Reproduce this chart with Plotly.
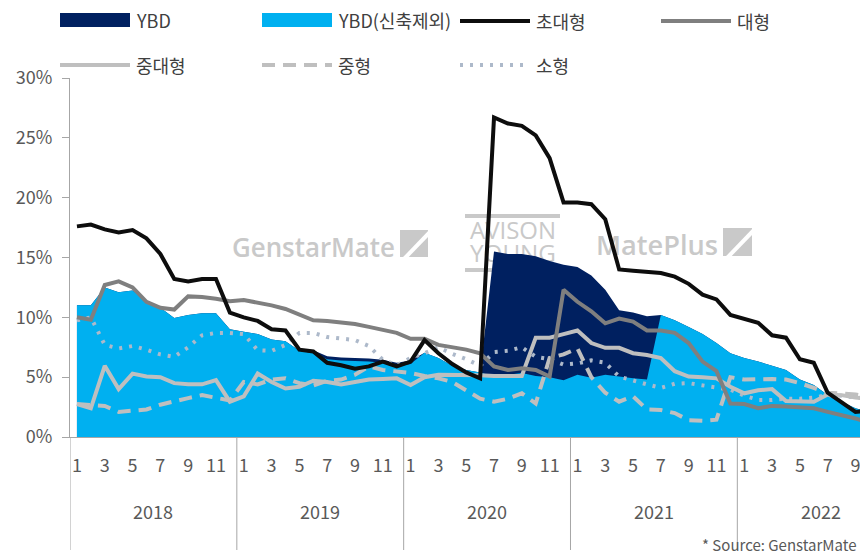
import plotly.graph_objects as go
import urllib.parse

# ---------------- data (monthly, Jan 2018 - Oct 2022) ----------------
years = [2018, 2019, 2020, 2021, 2022]
month_labels = [1, 3, 5, 7, 9, 11]
y_ticks = [0, 5, 10, 15, 20, 25, 30]

ybd = [
    11.0, 11.0, 12.5, 12.1, 12.25, 11.35, 10.8, 9.95, 10.2, 10.35, 10.35, 9.0,
    8.8, 8.6, 8.15, 8.0, 7.2, 7.25, 6.75, 6.65, 6.6, 6.55, 6.45, 6.2,
    6.4, 7.05, 6.6, 5.95, 5.6, 5.4, 15.5, 15.3, 15.3, 15.1, 14.7, 14.4,
    14.2, 13.5, 12.3, 10.6, 10.4, 10.1, 10.2, 9.75, 9.2, 8.6, 7.85, 7.0,
    6.6, 6.3, 5.95, 5.6, 4.8, 4.35, 3.5, 2.95, 2.4, 2.1,
]
ybd_excl_new = [
    11.0, 11.0, 12.5, 12.1, 12.25, 11.35, 10.8, 9.95, 10.2, 10.35, 10.35, 9.0,
    8.8, 8.6, 8.15, 8.0, 7.2, 7.0, 6.5, 6.4, 6.35, 6.3, 6.2, 5.9,
    6.1, 7.05, 6.6, 5.95, 5.6, 5.4, 5.05, 5.2, 5.35, 5.1, 5.0, 4.75,
    5.2, 4.95, 5.2, 5.05, 4.9, 4.8, 10.2, 9.75, 9.2, 8.6, 7.85, 7.0,
    6.6, 6.3, 5.95, 5.6, 4.8, 4.35, 3.5, 2.95, 2.4, 2.1,
]
prime = [  # 초대형
    17.6, 17.75, 17.35, 17.1, 17.3, 16.6, 15.3, 13.2, 13.0, 13.2, 13.2, 10.4,
    10.0, 9.7, 9.0, 8.9, 7.3, 7.15, 6.2, 6.0, 5.7, 5.9, 6.3, 5.9,
    6.3, 8.1, 7.0, 6.1, 5.4, 4.9, 26.7, 26.2, 26.0, 25.2, 23.3, 19.6,
    19.6, 19.45, 18.2, 14.0, 13.9, 13.8, 13.7, 13.4, 12.8, 11.9, 11.5, 10.2,
    9.9, 9.55, 8.5, 8.3, 6.5, 6.2, 3.7, 2.9, 2.1, 2.2,
]
large = [  # 대형
    10.0, 9.8, 12.7, 13.0, 12.5, 11.3, 10.8, 10.65, 11.75, 11.7, 11.55, 11.35,
    11.45, 11.25, 11.0, 10.7, 10.2, 9.75, 9.7, 9.6, 9.45, 9.2, 8.95, 8.7,
    8.2, 8.2, 7.7, 7.5, 7.3, 7.0, 5.9, 5.6, 5.75, 5.6, 5.05, 12.3,
    11.3, 10.5, 9.5, 9.9, 9.65, 8.9, 8.9, 8.7, 7.85, 6.3, 5.5, 2.8,
    2.75, 2.4, 2.6, 2.55, 2.5, 2.4, 2.1, 1.85, 1.55, 1.2,
]
mid_large = [  # 중대형
    2.75, 2.4, 5.95, 4.0, 5.3, 5.05, 5.0, 4.5, 4.4, 4.4, 4.75, 2.95,
    3.4, 5.3, 4.6, 4.05, 4.2, 4.7, 4.6, 4.4, 4.6, 4.8, 4.85, 4.9,
    4.35, 5.0, 5.2, 5.2, 5.2, 5.15, 5.1, 5.1, 5.1, 8.3, 8.3, 8.6,
    8.9, 7.85, 7.45, 7.45, 7.0, 6.85, 6.6, 5.5, 5.05, 5.0, 4.9, 4.2,
    3.65, 3.9, 4.0, 3.0, 2.95, 2.95, 3.55, 3.5, 3.3, 3.2,
]
mid = [  # 중형
    2.75, 2.7, 2.6, 2.1, 2.2, 2.3, 2.7, 3.0, 3.25, 3.5, 3.3, 3.05,
    4.6, 4.4, 4.8, 4.9, 4.5, 4.3, 4.7, 4.8, 5.2, 5.9, 5.6, 5.45,
    5.35, 5.1, 4.9, 4.6, 3.9, 3.2, 2.95, 3.2, 3.65, 2.8, 6.6, 6.9,
    7.4, 5.0, 3.7, 2.95, 3.4, 2.3, 2.25, 2.0, 1.4, 1.35, 1.45, 5.0,
    4.8, 4.85, 4.85, 4.8, 4.5, 4.1, 3.7, 3.65, 3.55, 3.3,
]
small = [  # 소형
    9.75, 10.0, 7.7, 7.4, 7.6, 7.3, 6.9, 6.7, 7.5, 8.5, 8.7, 8.7,
    8.6, 7.25, 7.2, 7.7, 8.7, 8.7, 8.35, 8.2, 8.1, 7.6, 6.45, 6.0,
    6.6, 7.0, 7.5, 6.95, 6.5, 5.95, 7.1, 7.2, 7.5, 6.7, 6.5, 6.05,
    6.15, 6.4, 6.2, 5.05, 4.7, 4.4, 4.1, 4.45, 4.5, 4.3, 4.15, 3.95,
    3.45, 3.1, 3.1, 3.2, 3.2, 3.3, 3.5, 3.45, 3.3, 3.2,
]

# ---------------- styling ----------------
FONT = "Noto Sans CJK KR"
C_NAVY = "#002060"
C_SKY = "#00B0F0"
C_BLACK = "#0d0d0d"
C_GRAY = "#7f7f7f"
C_LGRAY = "#bfbfbf"
C_DOT = "#adb9ca"
C_AXIS = "#a6a6a6"
C_TEXT = "#595959"

# the page body adds an 8px margin, so the figure is 8px smaller and all
# target pixel positions (page coordinates) are shifted by OFF
OFF = 8
W, H = 868 - OFF, 559 - OFF
L, T = 70 - OFF, 78 - OFF
BOTTOM = 437 - OFF
R, B = 0, H - BOTTOM
PW, PH = W - L - R, H - T - B


def px(x):
    return (x - OFF - L) / PW


def py(y):
    return (BOTTOM - (y - OFF)) / PH


n = len(prime)
x = list(range(n))

fig = go.Figure()
fig.add_trace(go.Scatter(x=x, y=ybd, mode="none", fill="tozeroy",
                         fillcolor=C_NAVY, name="YBD", hoverinfo="skip"))
fig.add_trace(go.Scatter(x=x, y=ybd_excl_new, mode="none", fill="tozeroy",
                         fillcolor=C_SKY, name="YBD(신축제외)", hoverinfo="skip"))
fig.add_trace(go.Scatter(x=x, y=small, mode="lines", name="소형",
                         line=dict(color=C_DOT, width=4, dash="3px,7px")))
fig.add_trace(go.Scatter(x=x, y=mid, mode="lines", name="중형",
                         line=dict(color=C_LGRAY, width=4, dash="13px,8px")))
fig.add_trace(go.Scatter(x=x, y=mid_large, mode="lines", name="중대형",
                         line=dict(color=C_LGRAY, width=4)))
fig.add_trace(go.Scatter(x=x, y=large, mode="lines", name="대형",
                         line=dict(color=C_GRAY, width=4)))
fig.add_trace(go.Scatter(x=x, y=prime, mode="lines", name="초대형",
                         line=dict(color=C_BLACK, width=4)))

# x ticks: odd months
tickvals, ticktext = [], []
for yi, yr in enumerate(years):
    for m in month_labels:
        tickvals.append(yi * 12 + m - 1)
        ticktext.append(str(m))

shapes = []
annotations = []

# year dividers & labels
for yi, yr in enumerate(years):
    shapes.append(dict(type="line", xref="x", yref="paper",
                       x0=yi * 12 - 0.5, x1=yi * 12 - 0.5,
                       y0=0, y1=py(550), line=dict(color=C_AXIS, width=1)))
    annotations.append(dict(xref="x", yref="paper", x=yi * 12 + 5.5, y=py(511),
                            text=str(yr), showarrow=False, xanchor="center",
                            yanchor="middle",
                            font=dict(family=FONT, size=18, color=C_TEXT)))

# manual legend
legend_items = [
    ("YBD", "box", C_NAVY, None, 60, 130, 20),
    ("YBD(신축제외)", "box", C_SKY, None, 262, 332, 20),
    ("초대형", "line", C_BLACK, "solid", 460, 530, 21),
    ("대형", "line", C_GRAY, "solid", 661, 731, 21),
    ("중대형", "line", C_LGRAY, "solid", 60, 130, 65),
    ("중형", "line", C_LGRAY, "13px,8px", 262, 332, 65),
    ("소형", "line", C_DOT, "3px,7px", 460, 530, 65),
]
for label, kind, col, dash, x0, x1, yc in legend_items:
    if kind == "box":
        shapes.append(dict(type="rect", xref="paper", yref="paper",
                           x0=px(x0), x1=px(x1), y0=py(yc - 7), y1=py(yc + 7),
                           fillcolor=col, line=dict(width=0)))
    else:
        shapes.append(dict(type="line", xref="paper", yref="paper",
                           x0=px(x0), x1=px(x1), y0=py(yc), y1=py(yc),
                           line=dict(color=col, width=4, dash=dash)))
    annotations.append(dict(xref="paper", yref="paper", x=px(x1 + 4), y=py(yc),
                            text=label, showarrow=False, xanchor="left",
                            yanchor="middle",
                            font=dict(family=FONT, size=18, color="#404040")))

annotations.append(dict(xref="paper", yref="paper", x=px(858), y=py(557),
                        text="* Source: GenstarMate", showarrow=False,
                        xanchor="right", yanchor="bottom",
                        font=dict(family=FONT, size=15, color=C_TEXT)))

# watermark (drawn below the data)
wm = """<svg xmlns='http://www.w3.org/2000/svg' width='540' height='66' viewBox='0 0 540 66'>
<g fill='#c9c9c9' font-family='Open Sans, Lato, sans-serif'>
<text x='4' y='47' font-size='27' font-weight='600' textLength='163' lengthAdjust='spacingAndGlyphs'>GenstarMate</text>
<rect x='172' y='20' width='28' height='27'/>
<text x='242' y='29' font-size='24' font-weight='400' textLength='86' lengthAdjust='spacingAndGlyphs'>AVISON</text>
<text x='242' y='52' font-size='24' font-weight='400' textLength='86' lengthAdjust='spacingAndGlyphs'>YOUNG</text>
<rect x='237' y='4' width='95' height='4'/>
<rect x='237' y='58' width='95' height='4'/>
<text x='368' y='45' font-size='27' font-weight='600' textLength='122' lengthAdjust='spacingAndGlyphs'>MatePlus</text>
<rect x='495' y='18' width='29' height='28'/>
</g>
<g stroke='white' stroke-width='4'>
<line x1='176' y1='49' x2='202' y2='22'/>
<line x1='499' y1='48' x2='526' y2='20'/>
</g>
</svg>"""
wm_uri = "data:image/svg+xml;charset=utf-8," + urllib.parse.quote(wm)

fig.update_layout(
    width=W, height=H,
    margin=dict(l=L, r=R, t=T, b=B, pad=0),
    paper_bgcolor="white",
    plot_bgcolor="rgba(0,0,0,0)",
    showlegend=False,
    font=dict(family=FONT, color=C_TEXT),
    shapes=shapes,
    annotations=annotations,
    images=[dict(source=wm_uri, xref="paper", yref="paper",
                 x=px(228), y=py(210), sizex=540 / PW, sizey=66 / PH,
                 xanchor="left", yanchor="top", sizing="stretch",
                 layer="below")],
    xaxis=dict(range=[-0.5, 56.9], tickvals=tickvals, ticktext=ticktext,
               showgrid=False, zeroline=False, showline=True,
               linecolor=C_AXIS, linewidth=1, ticks="",
               tickfont=dict(family=FONT, size=18, color=C_TEXT),
               ticklabelstandoff=12),
    yaxis=dict(range=[0, 30], tickvals=y_ticks,
               ticktext=[f"{v}%" for v in y_ticks],
               showgrid=False, zeroline=False,
               showline=True, linecolor=C_AXIS, linewidth=1,
               ticks="outside", ticklen=7, tickcolor=C_AXIS,
               tickfont=dict(family=FONT, size=18, color=C_TEXT),
               ticklabelstandoff=6),
)

fig.write_html("out.html", config={"displayModeBar": False})
